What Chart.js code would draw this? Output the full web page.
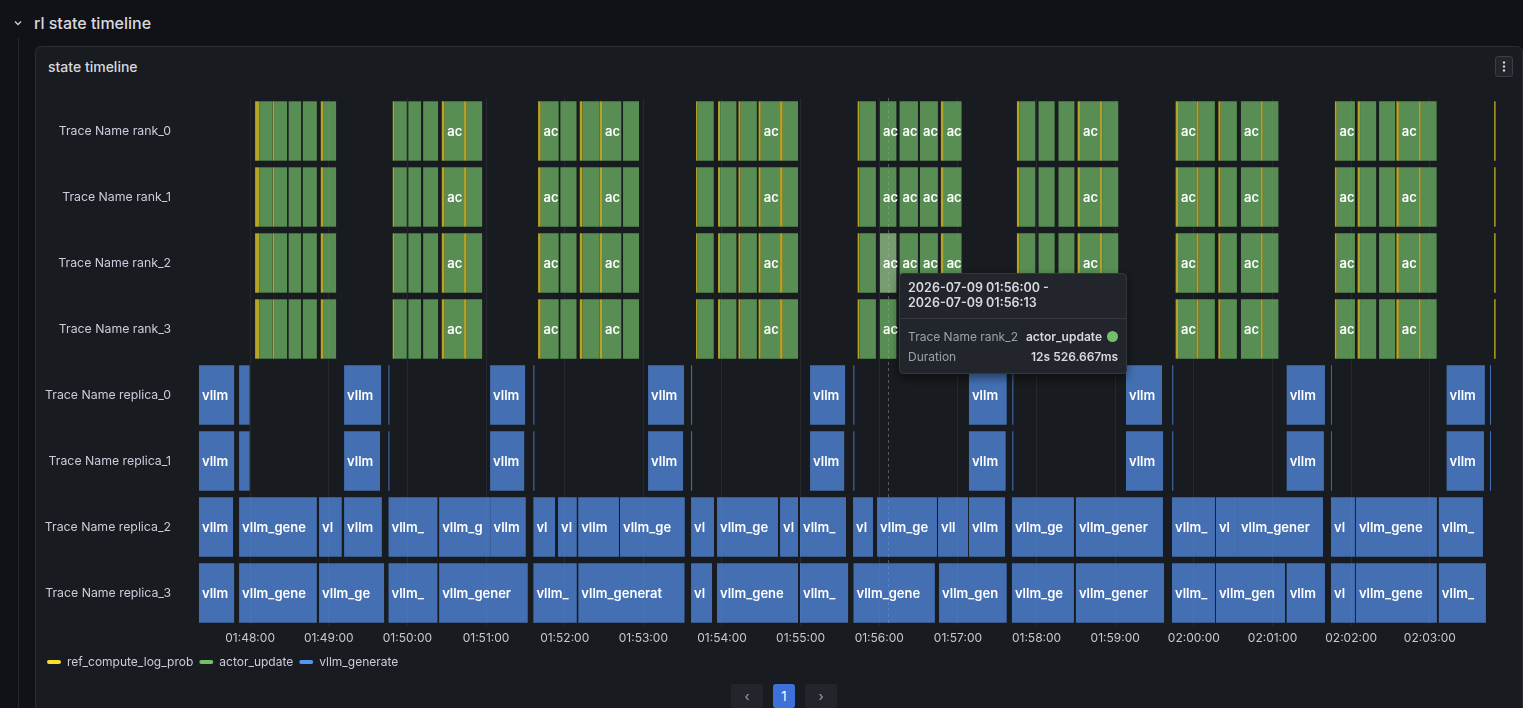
<!DOCTYPE html>
<html>
<head>
<meta charset="utf-8">
<title>state timeline</title>
<script src="https://cdn.jsdelivr.net/npm/chart.js@4.4.1/dist/chart.umd.min.js"></script>
<style>
  body { margin: 0; width: 1523px; height: 708px; overflow: hidden; position: relative;
         background: #111217; font-family: Inter, "Noto Sans", sans-serif; color: #ccccdc; }
  .guide { position: absolute; left: 18px; top: 38px; width: 1px; height: 680px; background: #25282e; }
  .chev { position: absolute; left: 12px; top: 17px; }
  .rowtitle { position: absolute; left: 34px; top: 13px; font-size: 16px; font-weight: 500; color: #d8d9de; }
  .panel { position: absolute; left: 35px; top: 46px; width: 1486px; height: 700px; background: #181b1f;
           border: 1px solid #2a2d33; border-radius: 6px; }
  .ptitle { position: absolute; left: 48px; top: 58px; font-size: 14px; font-weight: 500; color: #d8d9de; }
  .menu { position: absolute; left: 1495px; top: 56px; width: 18px; height: 21px; box-sizing: border-box;
          border: 1px solid #3a3d44; border-radius: 3px; background: #22252b; }
  .wrap { position: absolute; left: 36px; top: 90px; width: 1478px; height: 588px; }
  .pg { position: absolute; top: 684px; height: 24px; box-sizing: border-box; border-radius: 3px;
        background: #22252b; color: #9fa3ab; font-size: 13px; text-align: center; line-height: 24px; }
  #tip { position: absolute; display: none; width: 228px; box-sizing: border-box; background: #22252b;
         border: 1px solid #34373e; border-radius: 4px; box-shadow: 0 4px 10px rgba(0,0,0,0.45); }
  #tip .hd { padding: 6px 8px 8px 8px; font-size: 12.5px; font-weight: 600; color: #d8d9de; line-height: 15px; }
  #tip .bd { border-top: 1px solid #34373e; padding: 7px 8px 7px 8px; font-size: 12px; }
  #tip .r { display: flex; justify-content: space-between; align-items: center; height: 20px; }
  #tip .k { color: #9ba2ad; }
  #tip .v { color: #d8d9de; font-weight: 600; display: flex; align-items: center; }
  #tip .dot { width: 11px; height: 11px; border-radius: 50%; margin-left: 5px; }
</style>
</head>
<body>
<div class="guide"></div>
<svg class="chev" width="12" height="12" viewBox="0 0 12 12"><polyline points="3,4.5 6,7.5 9,4.5" fill="none" stroke="#ccccdc" stroke-width="1.4"/></svg>
<div class="rowtitle">rl state timeline</div>
<div class="panel"></div>
<div class="ptitle">state timeline</div>
<div class="menu"><svg width="16" height="19" viewBox="0 0 16 19"><circle cx="8" cy="5.5" r="1.2" fill="#ccccdc"/><circle cx="8" cy="9.5" r="1.2" fill="#ccccdc"/><circle cx="8" cy="13.5" r="1.2" fill="#ccccdc"/></svg></div>
<div class="wrap"><canvas id="timeline"></canvas></div>
<div class="pg" style="left:731px;width:32px;">&lsaquo;</div>
<div class="pg" style="left:773px;width:22px;background:#3d71d9;color:#fff;">1</div>
<div class="pg" style="left:805px;width:32px;">&rsaquo;</div>
<div id="tip"></div>
<script>
// time is seconds after 01:48:00 on 2026-07-09
var rows = ['Trace Name rank_0', 'Trace Name rank_1', 'Trace Name rank_2', 'Trace Name rank_3',
            'Trace Name replica_0', 'Trace Name replica_1', 'Trace Name replica_2', 'Trace Name replica_3'];
var states = ['ref_compute_log_prob', 'actor_update', 'vllm_generate'];
var tickLabels = ['01:48:00', '01:49:00', '01:50:00', '01:51:00', '01:52:00', '01:53:00', '01:54:00', '01:55:00',
                  '01:56:00', '01:57:00', '01:58:00', '01:59:00', '02:00:00', '02:01:00', '02:02:00', '02:03:00'];

// the four rank rows show the same spans
var rankRefLogProb = [[3.8, 6.9], [17.2, 18.3], [53.9, 55.7],
  [108.8, 109.8], [146.2, 148.2], [163.2, 165],
  [219.7, 221.6], [251.5, 253.6], [266.5, 268.5],
  [340.2, 341.3], [357, 358.5], [372.6, 374.1], [387.9, 389.5], [404.3, 406.2],
  [463.5, 464.8], [527, 529.1],
  [585, 586.6], [631.3, 633.1], [648.4, 649.9],
  [706.1, 707.9], [722.1, 723.6], [738.7, 740.4], [771.2, 772.5],
  [827.6, 828.9], [844.9, 846.7], [874.5, 876.4], [891.7, 893],
  [949.1, 950.2]];
var rankActorUpdate = [[7, 17], [18.3, 28.2], [29.4, 38.9], [40.2, 50.9], [55.7, 65.6],
  [109.8, 119.5], [120.7, 130.4], [132, 143.4], [148.2, 163.2], [165, 177],
  [221.6, 235.4], [236.7, 249], [253.8, 266.2], [268.5, 283.2], [284.5, 296.7],
  [341.4, 353.7], [358.6, 371], [374.2, 386.6], [389.5, 404.3], [406.2, 418],
  [465, 477.4], [480.5, 493.026667], [495.5, 509.5], [511, 524.7], [529.1, 542.8],
  [586.7, 599], [601.5, 613.8], [616.7, 628.9], [633.1, 648.4], [650, 662.3],
  [707.9, 722.1], [723.7, 736], [740.5, 752.8], [755.9, 771.2], [772.5, 784.5],
  [828.9, 842.9], [846.8, 859.1], [861.3, 873.6], [876.4, 891.7], [893, 905.2]];

var replica0Generate = [[-45, -12.2], [-8.4, 0], [71.7, 99.9], [105.5, 106.3], [183.1, 209.8], [216.1, 216.9],
  [303.6, 331], [336.4, 337.2], [427.2, 453.9], [460.2, 461], [548.4, 577.2], [581.5, 582.3],
  [668.2, 695.7], [703.5, 704.3], [790.8, 820], [824.6, 825.3], [912.8, 942], [945.9, 946.7]];
var replica1Generate = [[-45, -12.2], [-8.4, 0], [71.7, 99.1], [105.5, 106.3], [183.1, 209.1], [216.1, 216.9],
  [303.6, 330.3], [336.4, 337.2], [427.2, 453.2], [460.2, 461], [548.4, 576.4], [581.5, 582.3],
  [668.2, 696.5], [703.5, 704.3], [790.8, 819.2], [824.6, 825.3], [912.8, 941.3], [945.9, 946.7]];
var replica2Generate = [[-45, -13], [-8.4, 50.9], [52.6, 69.9], [71.7, 100.5], [105.6, 142.9], [144.2, 183.4],
  [183.4, 210.3], [216.1, 232.6], [234.9, 249.2], [250.3, 281.4], [282.2, 331.6], [336.4, 353.9],
  [356.2, 402.7], [404.3, 418], [419.5, 454.6], [460, 475.2], [478.3, 524], [524.8, 547.7],
  [548.4, 575.9], [581.2, 628.5], [630, 696.4], [703.3, 736.1], [736.8, 753.6], [753.6, 818.5],
  [824.6, 842.9], [843.6, 905.4], [906.9, 940.5]];
var replica3Generate = [[-45, -12.2], [-8.4, 50.9], [52.6, 102.2], [105.6, 142.9], [144.2, 211.8],
  [216.1, 249.2], [250.4, 331.4], [336.4, 352.4], [356.2, 418], [419.5, 456.2], [460.3, 522.4],
  [525.6, 577.2], [581.2, 628.5], [630, 697.2], [703.3, 736.1], [736.8, 789.5], [790.8, 820],
  [824.6, 842.9], [843.6, 905.4], [906.9, 942.8]];

var hoverRow = 'Trace Name rank_2';
var hoverStart = 480.5;
var cursorSec = 486.7;

var solid = ['#FADE2A', '#73BF69', '#5794F2'];
var fills = ['rgba(250,222,42,0.7)', 'rgba(115,191,105,0.7)', 'rgba(87,148,242,0.7)'];

function clock(sec) {
    var t = Math.floor(6480 + sec);
    function p(n) { return (n < 10 ? '0' : '') + n; }
    return p(Math.floor(t / 3600)) + ':' + p(Math.floor(t / 60) % 60) + ':' + p(t % 60);
}

function bars(row, spans) {
    return spans.map(function (s) { return { x: [s[0], s[1]], y: row }; });
}

var refData = [], actorData = [];
for (var r = 0; r < 4; r++) {
    refData = refData.concat(bars(rows[r], rankRefLogProb));
    actorData = actorData.concat(bars(rows[r], rankActorUpdate));
}
var genData = [].concat(bars(rows[4], replica0Generate), bars(rows[5], replica1Generate),
    bars(rows[6], replica2Generate), bars(rows[7], replica3Generate));

// value text, cut to the room the segment has
var segmentText = {
    id: 'segmentText',
    afterDatasetsDraw: function (chart) {
        var ctx = chart.ctx, area = chart.chartArea;
        ctx.save();
        ctx.font = '600 13px Inter';
        ctx.fillStyle = '#ffffff';
        ctx.textBaseline = 'middle';
        chart.data.datasets.forEach(function (ds, i) {
            chart.getDatasetMeta(i).data.forEach(function (bar) {
                var left = Math.max(Math.min(bar.x, bar.base), area.left);
                var right = Math.min(Math.max(bar.x, bar.base), area.right);
                var n = Math.floor((right - left) / 8.2);
                if (n < 2) return;
                ctx.fillText(ds.label.slice(0, n), left + 3, bar.y + 1);
            });
        });
        ctx.restore();
    }
};

var cursorLine = {
    id: 'cursorLine',
    beforeDatasetsDraw: function (chart) {
        var ctx = chart.ctx, area = chart.chartArea;
        var x = Math.round(chart.scales.x.getPixelForValue(cursorSec)) + 0.5;
        ctx.save();
        ctx.strokeStyle = 'rgba(204,204,220,0.35)';
        ctx.setLineDash([3, 3]);
        ctx.beginPath();
        ctx.moveTo(x, area.top);
        ctx.lineTo(x, area.bottom);
        ctx.stroke();
        ctx.restore();
    }
};

function htmlTooltip(context) {
    var el = document.getElementById('tip');
    var tt = context.tooltip;
    if (!tt.dataPoints || !tt.dataPoints.length) { el.style.display = 'none'; return; }
    var p = tt.dataPoints[0];
    var raw = p.raw;
    var d = raw.x[1] - raw.x[0];
    var secs = Math.floor(d);
    var dur = secs + 's ' + ((d - secs) * 1000).toFixed(3) + 'ms';
    el.innerHTML =
        '<div class="hd">2026-07-09 ' + clock(raw.x[0]) + ' -<br>2026-07-09 ' + clock(raw.x[1]) + '</div>' +
        '<div class="bd"><div class="r"><span class="k">' + raw.y + '</span><span class="v">' + p.dataset.label +
        '<span class="dot" style="background:' + solid[p.datasetIndex] + '"></span></span></div>' +
        '<div class="r"><span class="k">Duration</span><span class="v">' + dur + '</span></div></div>';
    var chart = context.chart;
    var rect = chart.canvas.getBoundingClientRect();
    el.style.left = (rect.left + chart.scales.x.getPixelForValue(cursorSec) + 11) + 'px';
    el.style.top = (rect.top + p.element.y + 10) + 'px';
    el.style.display = 'block';
}

var chart = new Chart(document.getElementById('timeline').getContext('2d'), {
    type: 'bar',
    data: {
        labels: rows,
        datasets: [
            { label: states[0], data: refData, backgroundColor: fills[0], hoverBackgroundColor: fills[0] },
            { label: states[1], data: actorData, backgroundColor: fills[1], hoverBackgroundColor: 'rgba(150,200,140,0.75)' },
            { label: states[2], data: genData, backgroundColor: fills[2], hoverBackgroundColor: fills[2] }
        ]
    },
    options: {
        indexAxis: 'y',
        responsive: true,
        maintainAspectRatio: false,
        animation: false,
        events: [],
        datasets: { bar: { grouped: false, categoryPercentage: 1, barPercentage: 0.9, borderWidth: 0 } },
        layout: { padding: { top: 8, right: 18, left: 5, bottom: 0 } },
        scales: {
            x: {
                type: 'linear',
                min: -39,
                max: 950.5,
                afterBuildTicks: function (scale) {
                    scale.ticks = tickLabels.map(function (t, i) { return { value: i * 60 }; });
                },
                ticks: {
                    autoSkip: false,
                    maxRotation: 0,
                    padding: 6,
                    color: '#c7c8d0',
                    font: { family: 'Inter', size: 12, lineHeight: 1 },
                    callback: function (v, i) { return tickLabels[i]; }
                },
                grid: { color: 'rgba(204,204,220,0.08)', drawTicks: false },
                border: { display: false }
            },
            y: {
                type: 'category',
                afterFit: function (scale) {
                    scale.width = 158;
                    scale.paddingTop = 0;
                    scale.paddingBottom = 0;
                },
                ticks: { padding: 28, color: '#ccccdc', font: { family: 'Inter', size: 12.3 } },
                grid: { display: false, drawTicks: false },
                border: { display: false }
            }
        },
        plugins: {
            legend: {
                position: 'bottom',
                align: 'start',
                labels: {
                    boxWidth: 14,
                    boxHeight: 4,
                    useBorderRadius: true,
                    borderRadius: 2,
                    padding: 6,
                    color: '#ccccdc',
                    font: { family: 'Inter', size: 12 },
                    generateLabels: function (c) {
                        return c.data.datasets.map(function (ds, i) {
                            return { text: ds.label, fillStyle: solid[i], strokeStyle: solid[i], lineWidth: 0,
                                     fontColor: '#ccccdc', datasetIndex: i, borderRadius: 2 };
                        });
                    }
                }
            },
            tooltip: { enabled: false, external: htmlTooltip }
        }
    },
    plugins: [cursorLine, segmentText]
});

var hoverIndex = actorData.findIndex(function (d) { return d.y === hoverRow && d.x[0] === hoverStart; });
var hoverBar = chart.getDatasetMeta(1).data[hoverIndex];
chart.setActiveElements([{ datasetIndex: 1, index: hoverIndex }]);
chart.tooltip.setActiveElements([{ datasetIndex: 1, index: hoverIndex }],
    { x: chart.scales.x.getPixelForValue(cursorSec), y: hoverBar.y });
chart.update();
</script>
</body>
</html>
